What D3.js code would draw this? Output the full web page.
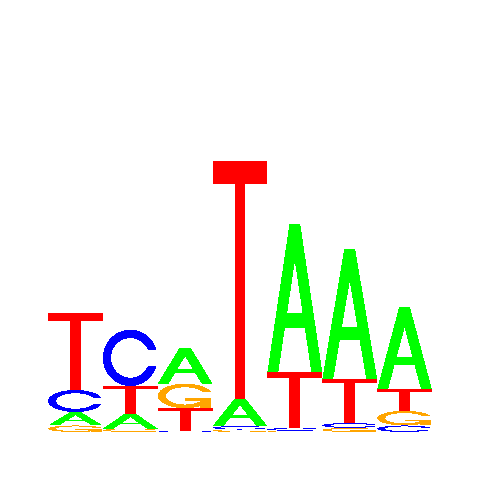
<!DOCTYPE html>
<html>
<head>
<meta charset="utf-8">
<script src="https://cdn.jsdelivr.net/npm/d3@7"></script>
<style>html,body{margin:0;padding:0;background:#fff;}</style>
</head>
<body>
<svg id="chart" width="480" height="480"></svg>
<script>
// Sequence logo data (information content in bits per letter per position)
const positions = ["1", "2", "3", "4", "5", "6", "7"];
const letters = ["A", "C", "G", "T"];
const heightA = [0.070, 0.078, 0.188, 0.143, 0.768, 0.677, 0.427];
const heightC = [0.115, 0.294, 0.004, 0.018, 0.015, 0.026, 0.034];
const heightG = [0.034, 0.018, 0.128, 0.013, 0.006, 0.021, 0.076];
const heightT = [0.400, 0.143, 0.120, 1.240, 0.292, 0.229, 0.112];
const letterColors = {A: "#00FF00", C: "#0000FF", G: "#FFA500", T: "#FF0000"};
const yDomain = [0, 2];

const heights = {A: heightA, C: heightC, G: heightG, T: heightT};

const svg = d3.select("#chart");
svg.append("rect").attr("width", 480).attr("height", 480).attr("fill", "#fff");

const x = d3.scaleBand().domain(positions).range([48, 432]).paddingInner(0).paddingOuter(0);
const y = d3.scaleLinear().domain(yDomain).range([432, 48]);

// unit glyph shapes (seqLogo-style), coordinates with y up in [0,1]
function seq(a, b, n) { const r = []; for (let i = 0; i < n; i++) r.push(a + (b - a) * i / (n - 1)); return r; }
function glyphC() {
  const a1 = seq(0.3 + Math.PI / 2, Math.PI, 100);
  const a2 = seq(Math.PI, 1.5 * Math.PI, 100);
  const xl = [...a1.map(a => 0.5 + 0.5 * Math.sin(a)), ...a2.map(a => 0.5 + 0.5 * Math.sin(a))];
  const yl1 = a1.map(a => 0.5 + 0.5 * Math.cos(a));
  const yl = [...yl1, ...a2.map(a => 0.5 + 0.5 * Math.cos(a))];
  const maxY1 = d3.max(yl1);
  let xi1 = [], yi1 = [];
  a1.forEach(a => { const yy = 0.5 + 0.35 * Math.cos(a); if (yy <= maxY1) { xi1.push(0.5 + 0.35 * Math.sin(a)); yi1.push(yy); } });
  yi1[0] = maxY1;
  const xi = [...xi1, ...a2.map(a => 0.5 + 0.35 * Math.sin(a))];
  const yi = [...yi1, ...a2.map(a => 0.5 + 0.35 * Math.cos(a))];
  const xo = [...xl, ...xl.slice().reverse()];
  const yo = [...yl, ...yl.slice().reverse().map(v => 1 - v)];
  const x1 = [...xi, ...xi.slice().reverse()];
  const y1 = [...yi, ...yi.slice().reverse().map(v => 1 - v)];
  const X = [...xo, ...x1.slice().reverse()];
  const Y = [...yo, ...y1.slice().reverse()];
  const r1 = d3.max(a1.map(a => 0.5 + 0.5 * Math.sin(a)));
  return {pts: X.map((v, i) => [v, Y[i]]), r1: r1};
}
const C = glyphC();
const glyphs = {
  A: [
    [[0,0],[0.4,1],[0.6,1],[1,0],[0.8,0],[0.68,0.3],[0.32,0.3],[0.2,0],[0,0]],
    [[0.36,0.4],[0.5,0.75],[0.64,0.4],[0.36,0.4]]
  ],
  C: [C.pts],
  G: [C.pts, [[C.r1,0.4],[0.5,0.4],[0.5,0.3],[C.r1-0.2,0.3],[C.r1-0.2,0],[C.r1,0],[C.r1,0.4]]],
  T: [[[0,1],[1,1],[1,0.9],[0.6,0.9],[0.6,0],[0.4,0],[0.4,0.9],[0,0.9]]]
};

function pathFor(polys, x0, w, yb, h) {
  return polys.map(p => "M" + p.map(([u, v]) => (x0 + u * w).toFixed(2) + "," + (yb - v * h).toFixed(2)).join("L") + "Z").join("");
}

const g = svg.append("g").attr("shape-rendering", "crispEdges");
positions.forEach((pos, i) => {
  const stack = letters.map(l => ({letter: l, h: heights[l][i]})).sort((a, b) => a.h - b.h);
  let base = 0;
  const x0 = x(pos), w = x.bandwidth();
  stack.forEach(d => {
    const yb = y(base), yt = y(base + d.h);
    const hpx = yb - yt;
    if (d.letter === "A") {
      g.append("path").attr("d", pathFor(glyphs.A, x0, w, yb, hpx)).attr("fill", letterColors.A).attr("fill-rule", "evenodd");
    } else {
      glyphs[d.letter].forEach(poly => {
        g.append("path").attr("d", pathFor([poly], x0, w, yb, hpx)).attr("fill", letterColors[d.letter]);
      });
    }
    base += d.h;
  });
});
</script>
</body>
</html>
